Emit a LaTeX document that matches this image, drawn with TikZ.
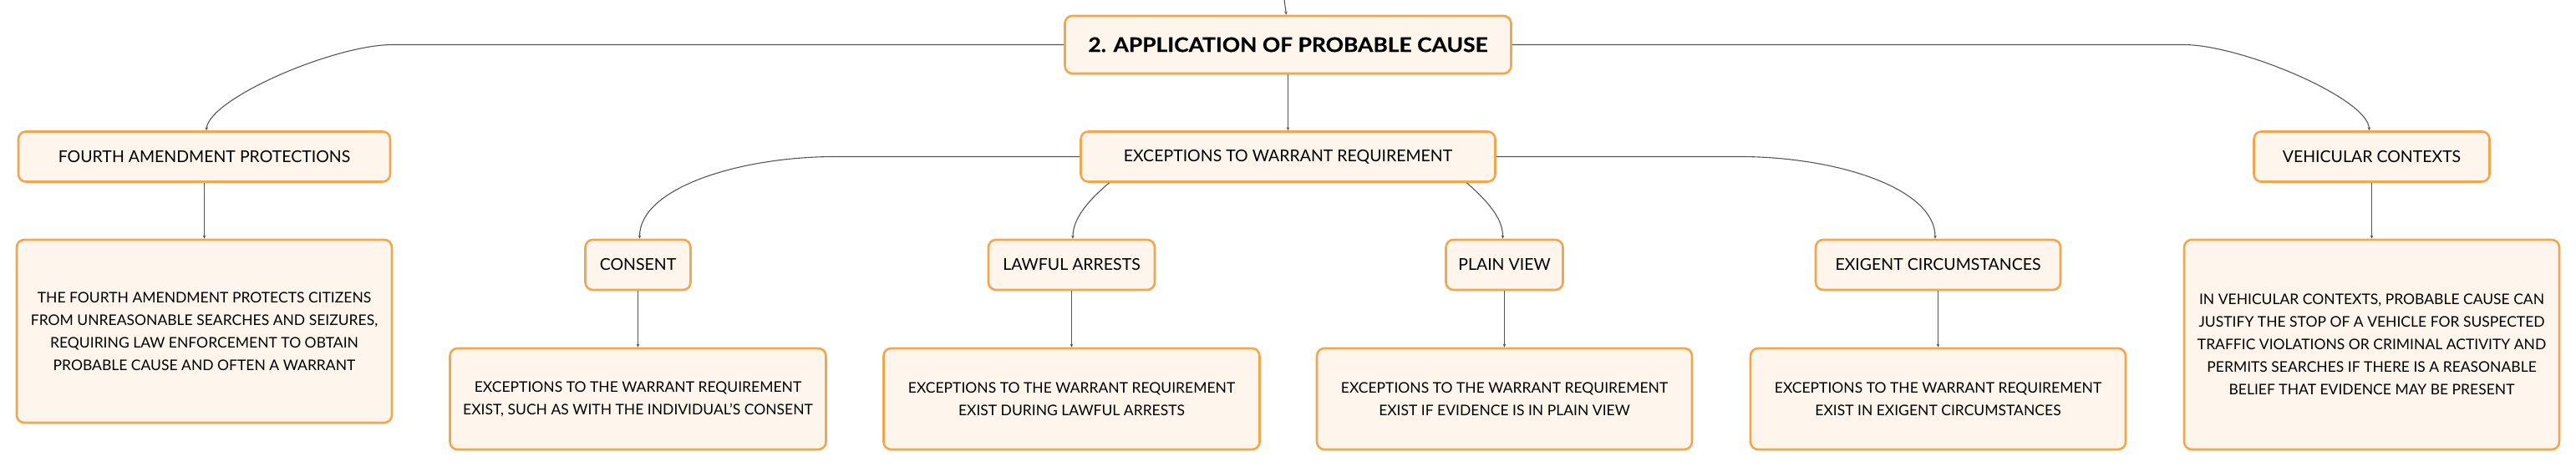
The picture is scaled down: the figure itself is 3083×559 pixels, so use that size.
\documentclass[tikz,border=0pt]{standalone}
\usepackage{fontspec}
\setmainfont{Lato}
\usetikzlibrary{arrows.meta,calc}
\definecolor{boxfill}{HTML}{FEF5EC}
\definecolor{boxline}{HTML}{F4A64F}
\definecolor{linkc}{HTML}{555555}
\tikzset{
  mmbox/.style={draw=boxline, line width=2.6pt, fill=boxfill, rounded corners=9pt,
    inner sep=0pt, align=center, text=black},
  rootbox/.style={mmbox, font=\fontsize{24}{28}\selectfont\bfseries\addfontfeature{FakeStretch=1.1,FakeBold=0.6}},
  topicbox/.style={mmbox, font=\fontsize{19.5}{24}\selectfont},
  descbox/.style={mmbox, font=\fontsize{17.5}{27}\selectfont},
  link/.style={draw=linkc, line width=1.1pt, -{Stealth[length=4pt,width=3.5pt]}}
}
\begin{document}
\begin{tikzpicture}[x=1pt,y=-1pt]
\useasboundingbox (0,0) rectangle (3083,559);
% nodes
\node[rootbox, minimum width=534, minimum height=69] (root) at (1541.5,53.5) {2. APPLICATION OF PROBABLE CAUSE};
\node[topicbox, minimum width=496, minimum height=60] (exc) at (1541.5,187.5) {EXCEPTIONS TO WARRANT REQUIREMENT};
\node[topicbox, minimum width=445, minimum height=60] (fourth) at (244.5,187.5) {FOURTH AMENDMENT PROTECTIONS};
\node[descbox, minimum width=449, minimum height=219] (fourthd) at (244.5,396.5) {THE FOURTH AMENDMENT PROTECTS CITIZENS\\FROM UNREASONABLE SEARCHES AND SEIZURES,\\REQUIRING LAW ENFORCEMENT TO OBTAIN\\PROBABLE CAUSE AND OFTEN A WARRANT};
\node[topicbox, minimum width=282, minimum height=60] (veh) at (2838.5,187.5) {VEHICULAR CONTEXTS};
\node[descbox, minimum width=449, minimum height=251] (vehd) at (2838.5,412.5) {IN VEHICULAR CONTEXTS, PROBABLE CAUSE CAN\\JUSTIFY THE STOP OF A VEHICLE FOR SUSPECTED\\TRAFFIC VIOLATIONS OR CRIMINAL ACTIVITY AND\\PERMITS SEARCHES IF THERE IS A REASONABLE\\BELIEF THAT EVIDENCE MAY BE PRESENT};
\node[topicbox, minimum width=126, minimum height=60] (consent) at (763.5,317) {CONSENT};
\node[descbox, minimum width=450, minimum height=121] (consentd) at (763.5,477.5) {EXCEPTIONS TO THE WARRANT REQUIREMENT\\EXIST, SUCH AS WITH THE INDIVIDUAL'S CONSENT};
\node[topicbox, minimum width=199, minimum height=60] (lawful) at (1282.5,317) {LAWFUL ARRESTS};
\node[descbox, minimum width=450, minimum height=121] (lawfuld) at (1282.5,477.5) {EXCEPTIONS TO THE WARRANT REQUIREMENT\\EXIST DURING LAWFUL ARRESTS};
\node[topicbox, minimum width=140, minimum height=60] (plain) at (1800.5,317) {PLAIN VIEW};
\node[descbox, minimum width=449, minimum height=121] (plaind) at (1800.5,477.5) {EXCEPTIONS TO THE WARRANT REQUIREMENT\\EXIST IF EVIDENCE IS IN PLAIN VIEW};
\node[topicbox, minimum width=293, minimum height=60] (exig) at (2319.5,317) {EXIGENT CIRCUMSTANCES};
\node[descbox, minimum width=449, minimum height=121] (exigd) at (2319.5,477.5) {EXCEPTIONS TO THE WARRANT REQUIREMENT\\EXIST IN EXIGENT CIRCUMSTANCES};
\coordinate (topin) at (1537,0);
% connectors
\draw[link] (topin) -- ([xshift=-2pt]root.north);
\draw[link] (root.south) -- (exc.north);
\draw[link] (root.west) -- (470,53.5) .. controls (400,53.5) and (250,118) .. ([xshift=2.5pt]fourth.north);
\draw[link] (root.east) -- (2613,53.5) .. controls (2683,53.5) and (2834,118) .. ([xshift=-3pt]veh.north);
\draw[link] (fourth.south) -- (fourthd.north);
\draw[link] (veh.south) -- (vehd.north);
\draw[link] (exc.west) -- (1000,187.5) .. controls (885,187.5) and (765,225) .. ([xshift=2pt]consent.north);
\draw[link] ([xshift=-214pt]exc.south) .. controls (1305,238) and (1284,260) .. ([xshift=1.5pt]lawful.north);
\draw[link] ([xshift=214pt]exc.south) .. controls (1777,238) and (1799,260) .. ([xshift=-2pt]plain.north);
\draw[link] (exc.east) -- (2082,187.5) .. controls (2197,187.5) and (2316,225) .. ([xshift=-3.5pt]exig.north);
\draw[link] (consent.south) -- (consentd.north);
\draw[link] (lawful.south) -- (lawfuld.north);
\draw[link] (plain.south) -- (plaind.north);
\draw[link] (exig.south) -- (exigd.north);
\end{tikzpicture}
\end{document}
